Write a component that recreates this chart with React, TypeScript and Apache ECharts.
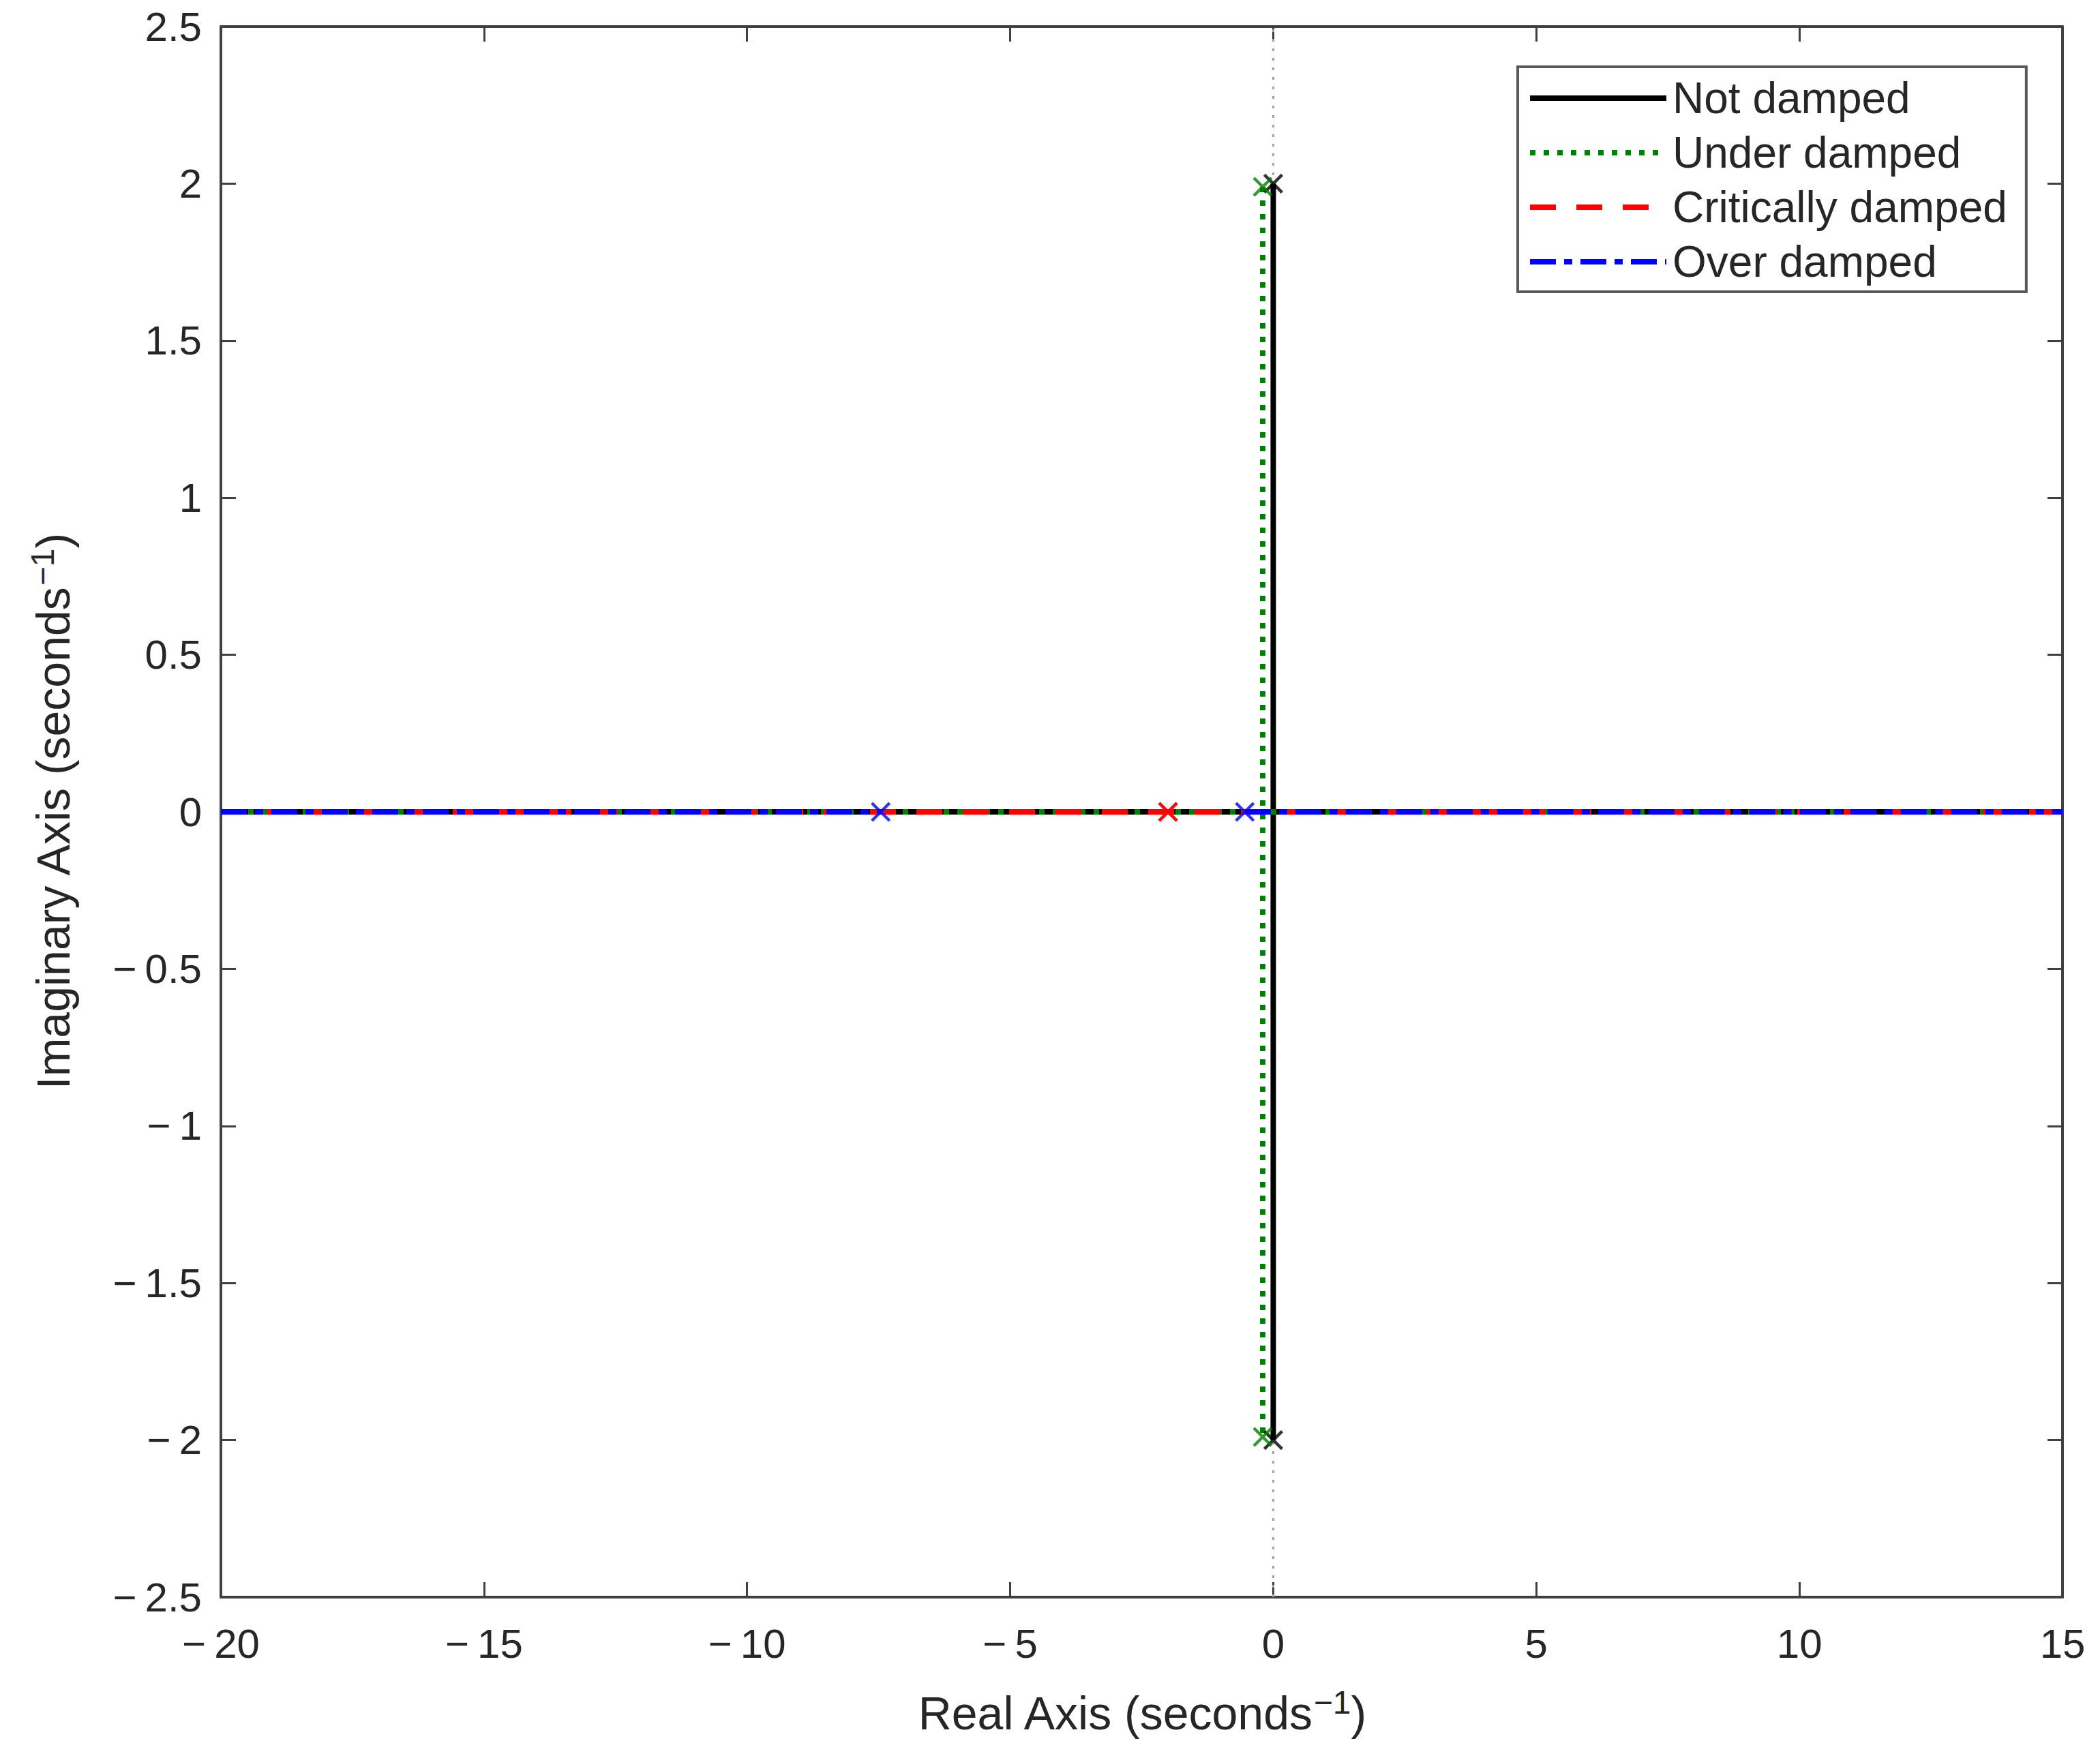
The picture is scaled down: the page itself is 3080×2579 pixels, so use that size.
import React, { useEffect, useRef } from "react";
import * as echarts from "echarts";

// ---- data ----
const xTicks = { min: -20, max: 15, interval: 5 };
const yTicks = { min: -2.5, max: 2.5, interval: 0.5 };

const seriesNames = ["Not damped", "Under damped", "Critically damped", "Over damped"];

// locus segments per system
const notDampedReal = [[-20, 0], [15, 0]];
const notDampedImag = [[0, 2], [0, -2]];
const underDampedReal = [[-20, 0], [15, 0]];
const underDampedImag = [[-0.2, 1.99], [-0.2, -1.99]];
const criticalReal = [[-20, 0], [15, 0]];
const overRealLeft = [[-20, 0], [-7.46, 0]];
const overRealRight = [[-0.54, 0], [15, 0]];

// poles (x markers)
const notDampedPoles = [[0, 2], [0, -2]];
const underDampedPoles = [[-0.2, 1.99], [-0.2, -1.99]];
const criticalPoles = [[-2, 0], [-2, 0]];
const overPoles = [[-7.46, 0], [-0.54, 0]];

// gray reference line along imaginary axis
const imagAxisRef = [[0, -2.5], [0, 2.5]];

const FONT = "Liberation Sans";
const TXT = "#262626";
const AXC = "#404040";

const fmt = (v: number) => (v < 0 ? "\u2212\u2009" + String(Math.abs(v)) : String(v));

export default function App() {
  const ref = useRef<HTMLDivElement>(null);
  useEffect(() => {
    if (!ref.current) return;
    const chart = echarts.init(ref.current, undefined, { renderer: "svg" });
    const X = "path://M0 0L10 10M10 0L0 10";
    const lineW = 8;
    const mk = (name: string, data: number[][], color: string, type: any, z: number) => ({
      type: "line",
      name,
      data,
      symbol: "none",
      lineStyle: { color, width: lineW, type },
      itemStyle: { color },
      z,
      silent: true,
    });
    const poles = (name: string, data: number[][], color: string, z: number) => ({
      type: "scatter",
      name,
      data,
      symbol: X,
      symbolSize: 26,
      itemStyle: { color: "transparent", borderColor: color, borderWidth: 4.5 },
      z,
      silent: true,
    });
    const axisCommon = {
      axisLine: { show: true, onZero: false, lineStyle: { color: AXC, width: 4 } },
      axisTick: { show: true, inside: true, length: 22, lineStyle: { color: AXC, width: 3 } },
      splitLine: { show: false },
    };
    const dotted = [8, 12];
    const dashed = [38, 30];
    const dashDot = [38, 12, 12, 12];
    const titleStyle = {
      fontFamily: FONT,
      fontSize: 68,
      color: TXT,
      lineHeight: 80,
      rich: {
        sup: { fontFamily: FONT, fontSize: 48, color: TXT, verticalAlign: "top", lineHeight: 80, padding: [0, 0, 34, 0] },
      },
    };
    chart.setOption({
      animation: false,
      backgroundColor: "#ffffff",
      grid: { left: 324, right: 55, top: 39, bottom: 236 },
      legend: {
        data: seriesNames,
        orient: "vertical",
        left: 2226,
        top: 98,
        padding: [14, 28, 12, 14],
        itemGap: 16,
        itemWidth: 200,
        itemHeight: 20,
        backgroundColor: "#ffffff",
        borderColor: "#595959",
        borderWidth: 4,
        borderRadius: 0,
        itemStyle: { color: "transparent", borderWidth: 0, opacity: 0 },
        lineStyle: { width: 8 },
        textStyle: { fontFamily: FONT, fontSize: 64, color: TXT, padding: [0, 0, 0, 4] },
        selectedMode: false,
      },
      xAxis: [
        {
          type: "value",
          position: "bottom",
          ...xTicks,
          name: "Real Axis (seconds{sup|\u22121})",
          nameLocation: "middle",
          nameGap: 130,
          nameTextStyle: titleStyle,
          axisLabel: { fontFamily: FONT, fontSize: 60, color: TXT, margin: 38, formatter: fmt },
          ...axisCommon,
        },
        {
          type: "value",
          position: "top",
          ...xTicks,
          axisLabel: { show: false },
          ...axisCommon,
        },
      ],
      yAxis: [
        {
          type: "value",
          position: "left",
          ...yTicks,
          name: "Imaginary Axis (seconds{sup|\u22121})",
          nameLocation: "middle",
          nameGap: 206,
          nameTextStyle: titleStyle,
          axisLabel: { fontFamily: FONT, fontSize: 60, color: TXT, margin: 28, formatter: fmt },
          ...axisCommon,
        },
        {
          type: "value",
          position: "right",
          ...yTicks,
          axisLabel: { show: false },
          ...axisCommon,
        },
      ],
      series: [
        {
          type: "line",
          name: "imag-ref",
          data: imagAxisRef,
          symbol: "none",
          lineStyle: { color: "#a0a0a0", width: 3, type: [4, 10] },
          z: 1,
          silent: true,
        },
        mk(seriesNames[0], notDampedReal, "#000000", "solid", 2),
        mk(seriesNames[0], notDampedImag, "#000000", "solid", 2),
        mk(seriesNames[1], underDampedReal, "#008000", dotted, 3),
        mk(seriesNames[1], underDampedImag, "#008000", dotted, 3),
        mk(seriesNames[2], criticalReal, "#ff0000", dashed, 4),
        mk(seriesNames[3], overRealLeft, "#0000ff", dashDot, 5),
        mk(seriesNames[3], overRealRight, "#0000ff", dashDot, 5),
        poles("p-not", notDampedPoles, "#000000", 6),
        poles("p-under", underDampedPoles, "#008000", 6),
        poles("p-crit", criticalPoles, "#ff0000", 6),
        poles("p-over", overPoles, "#0000ff", 6),
      ],
    });
    return () => chart.dispose();
  }, []);
  return <div ref={ref} style={{ position: "absolute", left: 0, top: 0, width: 3080, height: 2579 }} />;
}
